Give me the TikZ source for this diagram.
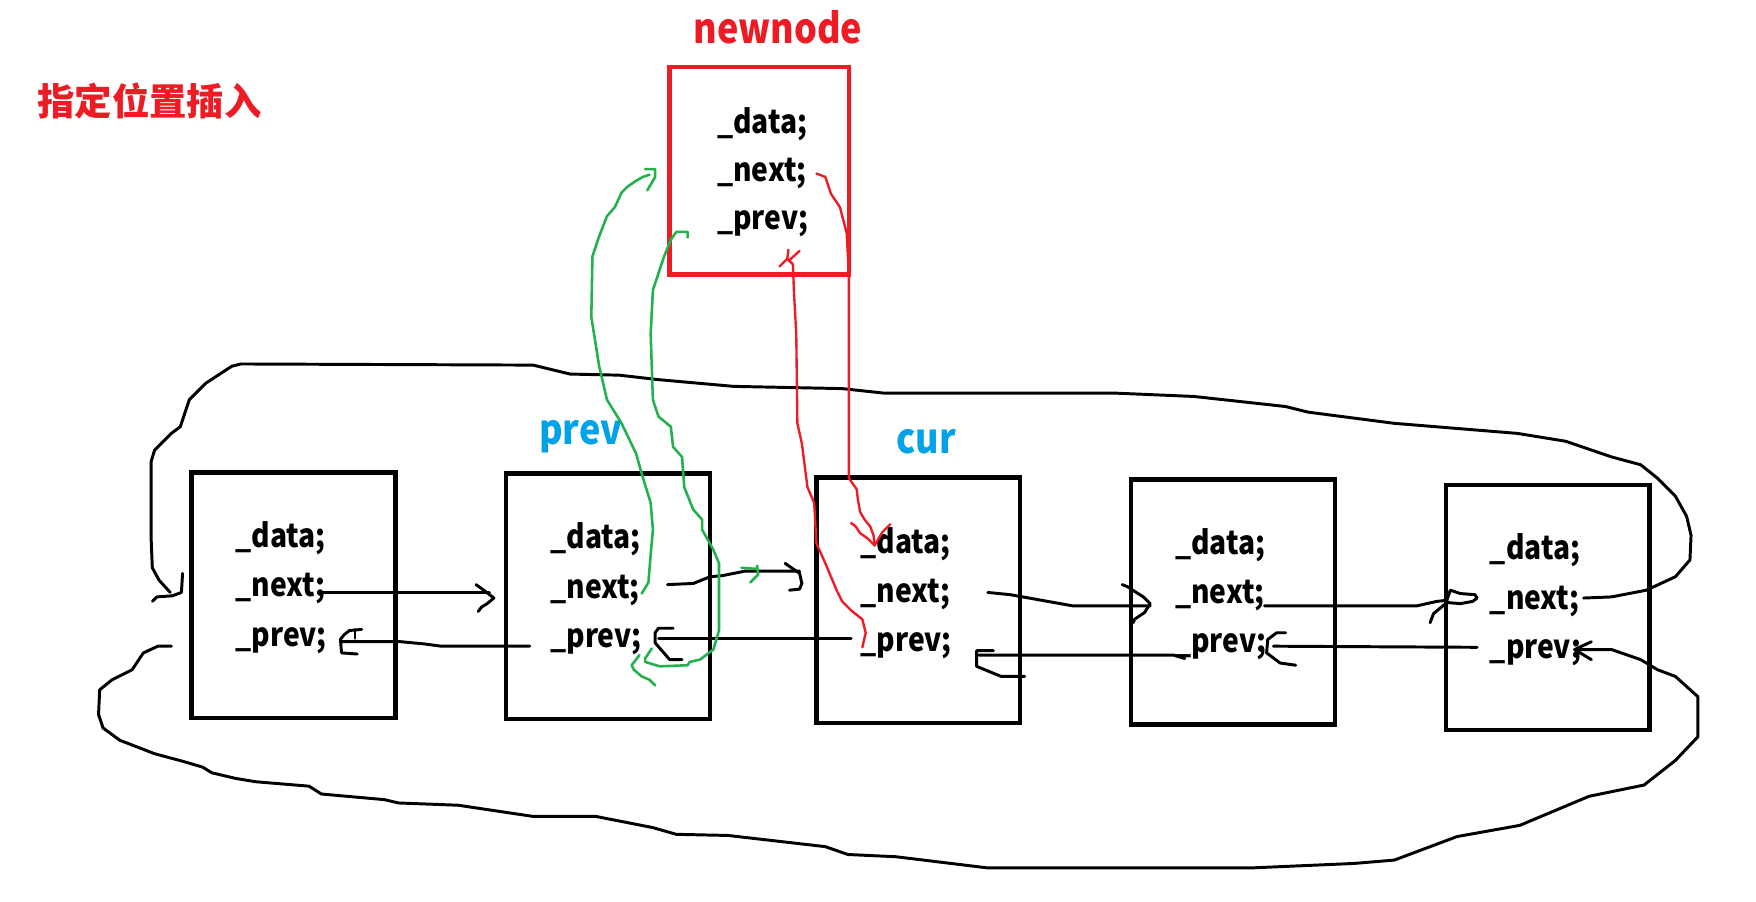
\documentclass[tikz,border=0pt]{standalone}
\usepackage{fontspec}
\newfontfamily\cjk{Noto Sans CJK SC}
\newfontfamily\cjkn{Noto Sans CJK SC}[FakeStretch=0.87]
\definecolor{pred}{RGB}{237,28,36}
\definecolor{pgreen}{RGB}{34,177,76}
\definecolor{pblue}{RGB}{0,162,232}
\begin{document}
\begin{tikzpicture}[x=0.02cm,y=-0.02cm,
  bbox/.style={draw=black, line width=2.3pt, minimum width=3.64cm, minimum height=4.38cm, inner sep=0pt},
  rbox/.style={draw=pred, line width=2.3pt, minimum width=3.2cm, minimum height=3.7cm, inner sep=0pt},
  fld/.style={font=\cjkn\bfseries\fontsize{16.5}{18}\selectfont, inner sep=0pt, anchor=base west},
  lbl/.style={font=\cjkn\bfseries\fontsize{21}{24}\selectfont, inner sep=0pt, anchor=base west},
  blk/.style={draw=black, line width=1.5pt, line join=round, line cap=round},
  grn/.style={draw=pgreen, line width=1.3pt, line join=round, line cap=round},
  rdl/.style={draw=pred, line width=1.2pt, line join=round, line cap=round}]
\useasboundingbox (0,0) rectangle (1568,805);

% boxes
\node[bbox] (b1) at (262,531.5) {};
\node[bbox] (b2) at (543,532.5) {};
\node[bbox] (b3) at (820,536) {};
\node[bbox] (b4) at (1101,537.5) {};
\node[bbox] (b5) at (1382,542.5) {};
\node[rbox] (nn) at (678,152.5) {};

% fields
\foreach \i/\x/\y in {1/210/489, 2/491/490, 3/768/494, 4/1049/495, 5/1330/500} {
  \node[fld] (d\i) at (\x,\y) {\_data;};
  \node[fld] (n\i) at (\x,\y+44) {\_next;};
  \node[fld] (p\i) at (\x,\y+88) {\_prev;};
}
\node[fld] (dn) at (640,119) {\_data;};
\node[fld] (nn2) at (640,162) {\_next;};
\node[fld] (pn) at (640,205) {\_prev;};

% labels
\node[font=\cjk\bfseries\fontsize{19}{23}\selectfont, text=pred, anchor=base west, inner sep=0pt] (title) at (33,103) {指定位置插入};
\node[lbl, text=pred] (nnl) at (619,39) {newnode};
\node[lbl, text=pblue] (prevl) at (481,397) {prev};
\node[lbl, text=pblue] (curl) at (800,405) {cur};

% top loop: tail next -> head
\draw[blk] (1414,534) -- (1439,533) -- (1470,527) -- (1496,515) -- (1509,500) -- (1510,478) -- (1506,461) -- (1496,443) -- (1480,427) -- (1465,415) -- (1439,408) -- (1398,394) -- (1355,387) -- (1245,378) -- (1168,368) -- (1148,363) -- (1066,354) -- (995,351) -- (789,351) -- (752,347) -- (655,345) -- (588,339) -- (553,335) -- (509,334) -- (476,326) -- (215,325) -- (207,327) -- (184,342) -- (169,357) -- (161,381) -- (153,387) -- (138,402) -- (135,412) -- (135,482) -- (136,507) -- (142,518) -- (152,529);
\draw[blk] (136,537) -- (140,533) -- (154,532) -- (162,529) -- (163,512);

% bottom loop: head prev -> tail
\draw[blk] (153,577) -- (141,577) -- (128,583) -- (118,598) -- (100,607) -- (89,616) -- (88,638) -- (92,650) -- (107,661) -- (138,673) -- (164,680) -- (181,685) -- (189,690) -- (210,695) -- (228,698) -- (276,702) -- (287,709) -- (343,714) -- (356,717) -- (409,719) -- (476,729) -- (532,729) -- (583,739) -- (604,745) -- (650,746) -- (737,756) -- (757,763) -- (800,765) -- (882,775) -- (1117,775) -- (1209,771) -- (1245,768) -- (1301,747) -- (1357,737) -- (1419,711) -- (1468,701) -- (1496,679) -- (1516,658) -- (1516,622) -- (1496,604) -- (1480,598) -- (1465,589) -- (1439,580) -- (1406,580);
\draw[blk] (1421,573) -- (1406,580) -- (1421,589);

% links between boxes
\draw[blk] (287,529) -- (437,529);
\draw[blk] (425,522) -- (432,527) -- (441,534) -- (435,539) -- (430,542) -- (427,546);
\draw[blk] (473,577) -- (394,577) -- (379,575) -- (358,573) -- (305,573);
\draw[blk] (323,562) -- (312,563) -- (307,567) -- (304,571) -- (305,583) -- (319,584);
\draw[blk] (317,562) -- (317,570);
\draw[blk] (596,522) -- (619,521) -- (634,515) -- (645,514) -- (665,510) -- (714,510);
\draw[blk] (701,503) -- (714,512) -- (716,521) -- (714,526) -- (705,527);
\draw[blk] (760,570) -- (588,570);
\draw[blk] (601,561) -- (588,561) -- (585,565) -- (585,574) -- (598,589) -- (609,589);
\draw[blk] (882,529) -- (902,531) -- (958,541) -- (1027,541);
\draw[blk] (1002,522) -- (1007,524) -- (1013,528) -- (1021,533) -- (1027,539) -- (1022,547) -- (1013,553) -- (1012,556);
\draw[blk] (1058,588) -- (1048,585) -- (874,585);
\draw[blk] (887,581) -- (872,581) -- (872,595) -- (894,604) -- (915,604);
\draw[blk] (1129,541) -- (1265,541) -- (1283,537) -- (1292,536);
\draw[blk] (1292,536) -- (1295,527) -- (1304,530) -- (1317,531) -- (1319,534) -- (1315,537) -- (1304,539) -- (1292,538) -- (1280,548) -- (1277,556);
\draw[blk] (1319,578) -- (1137,577);
\draw[blk] (1148,565) -- (1140,565) -- (1132,571) -- (1131,583) -- (1143,592) -- (1157,594);

% green: prev->_next = newnode
\draw[grn] (573,530) -- (579,520) -- (581,495) -- (583,473) -- (581,449) -- (573,423) -- (568,405) -- (555,378) -- (542,357) -- (535,327) -- (528,283) -- (529,229) -- (535,211) -- (542,193) -- (549,185) -- (555,172) -- (560,167) -- (567,162) -- (574,158) -- (580,156);
\draw[grn] (576,151) -- (585,151) -- (585,158) -- (578,170);
% green: newnode->_prev = prev
\draw[grn] (614,212) -- (614,207) -- (604,207) -- (599,214) -- (593,229) -- (583,259) -- (581,298) -- (583,357) -- (588,372) -- (599,381) -- (601,399) -- (609,408) -- (611,435) -- (619,455) -- (627,464) -- (627,473) -- (637,491) -- (642,503) -- (642,563) -- (637,580) -- (625,589) -- (616,591) -- (614,594) -- (589,595) -- (576,591) -- (576,588) -- (582,579);
\draw[grn] (571,585) -- (564,594) -- (566,598) -- (573,604) -- (580,607) -- (585,612);
\draw[grn] (662,507) -- (676,508) (676,505) -- (677,513) -- (670,520);

% red: newnode->_next = cur
\draw[rdl] (729,155) -- (737,158) -- (742,173) -- (750,185) -- (756,208) -- (758,245) -- (758,427) -- (765,437) -- (766,446) -- (768,457) -- (772,464) -- (777,470) -- (780,478) -- (781,487);
\draw[rdl] (760,467) -- (764,470) -- (768,476) -- (775,481) -- (781,487) -- (788,475) -- (795,468);
% red: cur->_prev = newnode
\draw[rdl] (770,578) -- (773,565) -- (770,553) -- (760,545) -- (752,537) -- (747,527) -- (742,515) -- (737,503) -- (729,485) -- (727,449) -- (721,435) -- (716,396) -- (712,378) -- (711,298) -- (709,262) -- (708,236) -- (703,231) -- (696,238);
\draw[rdl] (703,231) -- (704,223) (704,233) -- (714,224);
\end{tikzpicture}
\end{document}
